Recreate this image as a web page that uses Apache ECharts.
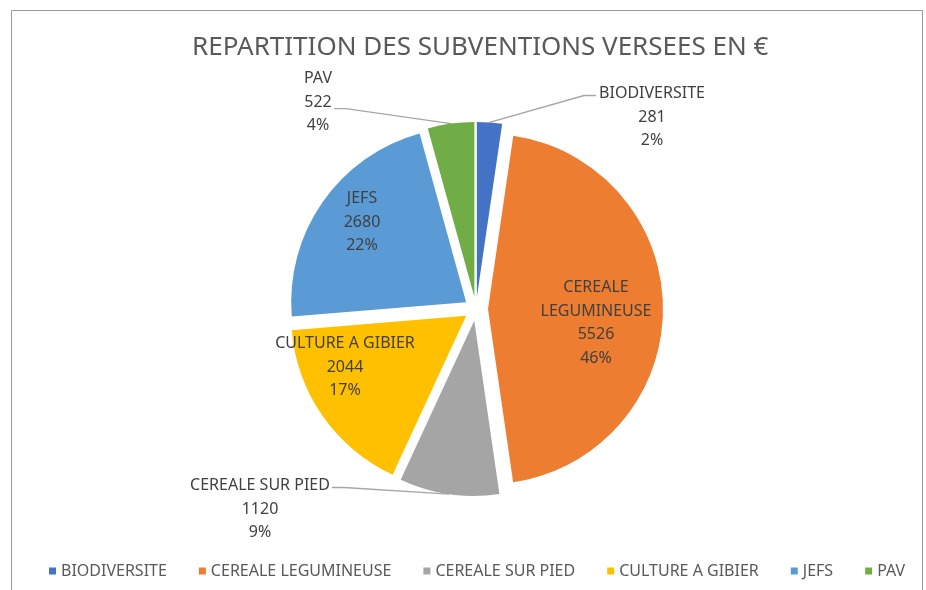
<!DOCTYPE html>
<html>
<head>
<meta charset="utf-8">
<script src="https://cdn.jsdelivr.net/npm/echarts@6/dist/echarts.min.js"></script>
<style>
  html, body { margin: 0; padding: 0; background: #fff; }
  #main { width: 926px; height: 590px; }
</style>
</head>
<body>
<div id="main"></div>
<script>
var categories = ['BIODIVERSITE', 'CEREALE LEGUMINEUSE', 'CEREALE SUR PIED', 'CULTURE A GIBIER', 'JEFS', 'PAV'];
var amounts = [281, 5526, 1120, 2044, 2680, 522];
var colors = ['#4472C4', '#ED7D31', '#A5A5A5', '#FFC000', '#5B9BD5', '#70AD47'];

var myChart = echarts.init(document.getElementById('main'));

// geometrie du camembert (parts eclatees)
var cx = 476, cy = 309, R = 175, explode = 12;
var lh = 23.5;
// centre des blocs d'etiquettes
var labelPos = { 0: [652, 117], 1: [596, 323], 2: [260, 509], 3: [345, 367], 4: [362, 222], 5: [318, 102] };
// traits de rappel pour les petites parts : cote du bloc + ligne de texte visee
var leader = { 0: { side: 'left', line: 0 }, 2: { side: 'right', line: 0 }, 5: { side: 'right', line: 1.2 } };

var total = 0;
amounts.forEach(function (v) { total += v; });
var midAngles = [];
var acc = 0;
amounts.forEach(function (v) {
    midAngles.push((acc + v / 2) / total * Math.PI * 2);
    acc += v;
});
var centers = midAngles.map(function (a) {
    return [cx + explode * Math.sin(a), cy - explode * Math.cos(a)];
});

function makeSeries(k) {
    return {
        type: 'pie',
        center: centers[k],
        radius: R,
        startAngle: 90,
        percentPrecision: 0,
        avoidLabelOverlap: false,
        silent: true,
        emphasis: { disabled: true },
        label: {
            position: leader[k] ? 'outside' : 'inside',
            formatter: k == 1 ? 'CEREALE\nLEGUMINEUSE\n{c}\n{d}%' : '{b}\n{c}\n{d}%',
            fontFamily: 'Noto Sans',
            fontSize: 16,
            lineHeight: lh,
            color: '#404040',
            align: 'center'
        },
        labelLine: {
            show: !!leader[k],
            length: 20,
            length2: 10,
            lineStyle: { color: '#a6a6a6', width: 1.3 }
        },
        labelLayout: function (p) {
            var i = p.dataIndex;
            if (i !== k) return {};
            var pos = labelPos[i];
            var out = { x: pos[0], y: pos[1], align: 'center', verticalAlign: 'middle' };
            if (leader[i]) {
                var w = p.labelRect.width, h = p.labelRect.height;
                var left = pos[0] - w / 2, right = pos[0] + w / 2, top = pos[1] - h / 2;
                var ey = top + lh * (leader[i].line + 0.5) + 2;
                var ex = leader[i].side == 'left' ? left - 3 : right + 2;
                var bx = leader[i].side == 'left' ? ex - 12 : ex + 12;
                var a = midAngles[i];
                var sx = centers[i][0] + R * Math.sin(a), sy = centers[i][1] - R * Math.cos(a);
                out.labelLinePoints = [[sx, sy], [bx, ey], [ex, ey]];
            }
            return out;
        },
        data: categories.map(function (name, i) {
            if (i === k) {
                return { name: name, value: amounts[i], itemStyle: { color: colors[i] } };
            }
            return {
                name: name,
                value: amounts[i],
                itemStyle: { color: 'rgba(0,0,0,0)' },
                label: { show: false },
                labelLine: { show: false }
            };
        })
    };
}

var seriesList = [];
for (var k = 0; k < categories.length; k++) seriesList.push(makeSeries(k));

var option = {
    backgroundColor: '#fff',
    animation: false,
    title: {
        text: 'REPARTITION DES SUBVENTIONS VERSEES EN €',
        left: 187,
        top: 30,
        textStyle: {
            fontFamily: 'Noto Sans',
            fontSize: 26,
            fontWeight: 'normal',
            color: '#595959'
        }
    },
    legend: {
        top: 558,
        left: 44,
        icon: 'rect',
        itemWidth: 7,
        itemHeight: 7,
        itemGap: 32,
        selectedMode: false,
        data: categories.map(function (name, i) {
            return { name: name, itemStyle: { color: colors[i] } };
        }),
        textStyle: { fontFamily: 'Noto Sans', fontSize: 16, color: '#595959' }
    },
    graphic: [{
        type: 'rect',
        shape: { x: 11.5, y: 10.5, width: 911, height: 600 },
        style: { fill: 'none', stroke: '#9a9a9a', lineWidth: 1 },
        silent: true
    }],
    series: seriesList
};

myChart.setOption(option);
</script>
</body>
</html>
